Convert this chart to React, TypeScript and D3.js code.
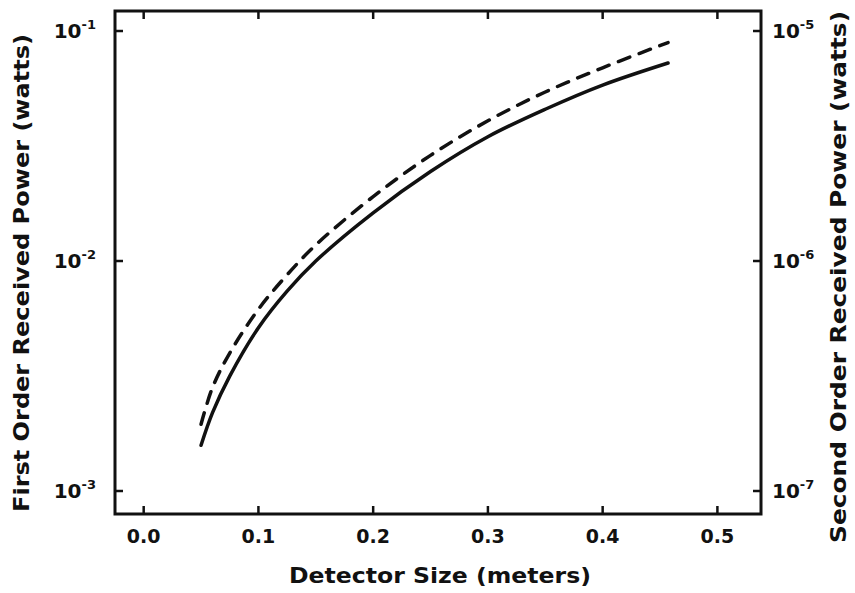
import React, { useRef, useEffect } from 'react';
import * as d3 from 'd3';

// detector size (meters)
const sizeFirst = [0.05, 0.06, 0.075, 0.1, 0.125, 0.15, 0.2, 0.25, 0.3, 0.35, 0.4, 0.457];
// first order received power (watts) - solid curve, left axis
const powerFirst = [1.58e-3, 2.19e-3, 3.16e-3, 5.13e-3, 7.4e-3, 0.01, 0.0162, 0.0245, 0.0347, 0.0457, 0.0582, 0.0726];

const sizeSecond = [0.05, 0.06, 0.075, 0.1, 0.125, 0.15, 0.2, 0.25, 0.3, 0.35, 0.4, 0.457];
// second order received power (watts) - dashed curve, right axis
const powerSecond = [1.95e-7, 2.82e-7, 3.98e-7, 6.17e-7, 8.71e-7, 1.175e-6, 1.905e-6, 2.88e-6, 4.07e-6, 5.43e-6, 6.92e-6, 8.91e-6];

const xTicks = [0, 0.1, 0.2, 0.3, 0.4, 0.5];
const leftTicks = [1e-1, 1e-2, 1e-3];
const leftExp = ['-1', '-2', '-3'];
const rightTicks = [1e-5, 1e-6, 1e-7];
const rightExp = ['-5', '-6', '-7'];

const FONT = '"DejaVu Sans", sans-serif';

const App = () => {
  const svgRef = useRef(null);

  useEffect(() => {
    const left = 115, right = 761, top = 11, bottom = 514;

    const x = d3.scaleLinear().domain([-0.025, 0.538]).range([left, right]);
    const yL = d3.scaleLog().domain([Math.pow(10, -3.1), Math.pow(10, -0.913)]).range([bottom, top]);
    const yR = d3.scaleLog().domain([Math.pow(10, -7.1), Math.pow(10, -4.913)]).range([bottom, top]);

    const svg = d3.select(svgRef.current);
    svg.selectAll('*').remove();

    svg.append('rect').attr('width', 855).attr('height', 593).attr('fill', 'white');

    // frame
    svg.append('rect')
      .attr('x', left).attr('y', top)
      .attr('width', right - left).attr('height', bottom - top)
      .attr('fill', 'none').attr('stroke', '#111').attr('stroke-width', 3);

    const tickLen = 8;
    // x ticks bottom & top
    xTicks.forEach((t) => {
      svg.append('line').attr('x1', x(t)).attr('x2', x(t)).attr('y1', bottom).attr('y2', bottom - tickLen)
        .attr('stroke', '#111').attr('stroke-width', 2.5);
      svg.append('line').attr('x1', x(t)).attr('x2', x(t)).attr('y1', top).attr('y2', top + tickLen)
        .attr('stroke', '#111').attr('stroke-width', 2.5);
      svg.append('text').attr('x', x(t)).attr('y', 543)
        .attr('text-anchor', 'middle').attr('font-family', FONT).attr('font-weight', 'bold')
        .attr('font-size', 19).attr('fill', '#111').text(t.toFixed(1));
    });

    // left axis
    leftTicks.forEach((t, i) => {
      svg.append('line').attr('x1', left).attr('x2', left + tickLen).attr('y1', yL(t)).attr('y2', yL(t))
        .attr('stroke', '#111').attr('stroke-width', 2.5);
      const tx = svg.append('text').attr('x', 96).attr('y', yL(t) + 7)
        .attr('text-anchor', 'end').attr('font-family', FONT).attr('font-weight', 'bold')
        .attr('font-size', 20).attr('fill', '#111');
      tx.append('tspan').text('10');
      tx.append('tspan').attr('dy', -9).attr('font-size', 13).text(leftExp[i]);
    });

    // right axis
    rightTicks.forEach((t, i) => {
      svg.append('line').attr('x1', right).attr('x2', right - tickLen).attr('y1', yR(t)).attr('y2', yR(t))
        .attr('stroke', '#111').attr('stroke-width', 2.5);
      const tx = svg.append('text').attr('x', 772).attr('y', yR(t) + 7)
        .attr('font-family', FONT).attr('font-weight', 'bold')
        .attr('font-size', 20).attr('fill', '#111');
      tx.append('tspan').text('10');
      tx.append('tspan').attr('dy', -9).attr('font-size', 13).text(rightExp[i]);
    });

    // axis titles
    svg.append('text').attr('x', 440).attr('y', 583)
      .attr('text-anchor', 'middle').attr('font-family', FONT).attr('font-weight', 'bold')
      .attr('font-size', 22).attr('fill', '#111')
      .attr('textLength', 302).attr('lengthAdjust', 'spacingAndGlyphs')
      .text('Detector Size (meters)');

    svg.append('text').attr('transform', 'translate(29,273) rotate(-90)')
      .attr('text-anchor', 'middle').attr('font-family', FONT).attr('font-weight', 'bold')
      .attr('font-size', 21).attr('fill', '#111')
      .attr('textLength', 478).attr('lengthAdjust', 'spacingAndGlyphs')
      .text('First  Order  Received  Power  (watts)');

    svg.append('text').attr('transform', 'translate(846,277) rotate(-90)')
      .attr('text-anchor', 'middle').attr('font-family', FONT).attr('font-weight', 'bold')
      .attr('font-size', 21).attr('fill', '#111')
      .attr('textLength', 532).attr('lengthAdjust', 'spacingAndGlyphs')
      .text('Second  Order  Received  Power  (watts)');

    // curves
    const lineL = d3.line<number>()
      .x((_, i) => x(sizeFirst[i]))
      .y((d) => yL(d))
      .curve(d3.curveCatmullRom.alpha(0.5));
    const lineR = d3.line<number>()
      .x((_, i) => x(sizeSecond[i]))
      .y((d) => yR(d))
      .curve(d3.curveCatmullRom.alpha(0.5));

    svg.append('path').attr('d', lineL(powerFirst))
      .attr('fill', 'none').attr('stroke', '#111').attr('stroke-width', 3.5)
      .attr('stroke-linecap', 'round');

    svg.append('path').attr('d', lineR(powerSecond))
      .attr('fill', 'none').attr('stroke', '#111').attr('stroke-width', 3.5)
      .attr('stroke-dasharray', '12 10').attr('stroke-linecap', 'round');
  }, []);

  return (
    <svg ref={svgRef} width={855} height={593}
      style={{ position: 'absolute', left: 0, top: 0, background: 'white' }} />
  );
};

export default App;
